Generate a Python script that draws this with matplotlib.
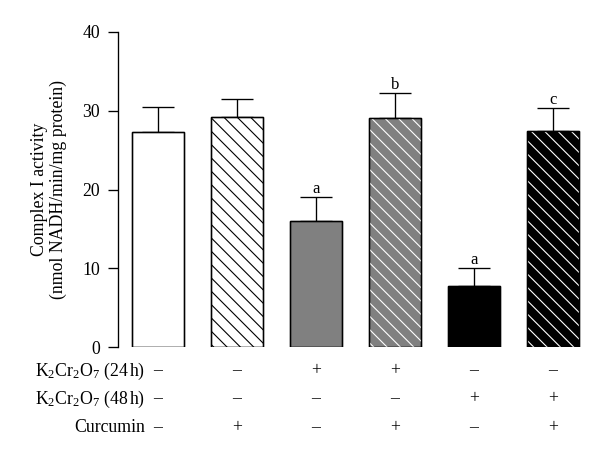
import matplotlib

matplotlib.use("Agg")
import matplotlib.pyplot as plt
from matplotlib.transforms import blended_transform_factory

# values
activity = [27.3, 29.2, 16.0, 29.1, 7.8, 27.4]
sem = [3.2, 2.3, 3.05, 3.1, 2.2, 3.0]
face_colors = ["white", "white", "#808080", "#808080", "black", "black"]
hatched = [False, True, False, True, False, True]
hatch_colors = ["black", "black", "white", "white", "white", "white"]
letters = ["", "", "a", "b", "a", "c"]

row_labels = [r"K$_2$Cr$_2$O$_7$ (24$\,$h)", r"K$_2$Cr$_2$O$_7$ (48$\,$h)", "Curcumin"]
k24 = ["–", "–", "+", "+", "–", "–"]
k48 = ["–", "–", "–", "–", "+", "+"]
curcumin = ["–", "+", "–", "+", "–", "+"]

plt.rcParams["font.family"] = "Liberation Serif"
plt.rcParams["mathtext.fontset"] = "custom"
plt.rcParams["mathtext.rm"] = "Liberation Serif"
plt.rcParams["mathtext.it"] = "Liberation Serif:italic"
plt.rcParams["hatch.linewidth"] = 1.0

W, H, DPI = 600, 461, 80
fig = plt.figure(figsize=(W / DPI, H / DPI), dpi=DPI)
ax = fig.add_axes([118 / W, 1 - 347 / H, 474.5 / W, 315 / H])

positions = list(range(len(activity)))
width = 0.66

ax.bar(positions, activity, width, color=face_colors, edgecolor="black", linewidth=1.2, zorder=2)
for pos, value, flag, hcolor in zip(positions, activity, hatched, hatch_colors):
    if flag:
        ax.bar(pos, value, width, color="none", edgecolor=hcolor, hatch="\\\\", linewidth=0, zorder=3)
ax.bar(positions, activity, width, color="none", edgecolor="black", linewidth=1.2, zorder=4)

ax.errorbar(
    positions,
    activity,
    yerr=[[0] * len(sem), sem],
    fmt="none",
    ecolor="black",
    elinewidth=1.2,
    capsize=14,
    capthick=1.2,
    zorder=1,
)
for pos, value, err, letter in zip(positions, activity, sem, letters):
    if letter:
        ax.annotate(letter, (pos, value + err), xytext=(0, 0), textcoords="offset points",
                    ha="center", va="bottom", fontsize=15)

ax.set_xlim(-0.506, 5.5)
ax.set_ylim(0, 40)
ax.set_yticks([0, 10, 20, 30, 40])
ax.set_xticks([])
for side in ("top", "right", "bottom"):
    ax.spines[side].set_visible(False)
ax.spines["left"].set_linewidth(1.2)
ax.tick_params(axis="y", direction="out", length=9, width=1.2, labelsize=16, pad=7)
ax.set_ylabel("Complex I activity\n(nmol NADH/min/mg protein)", fontsize=16, labelpad=14, linespacing=1.1)

# treatment table under the bars, one column per bar
trans = blended_transform_factory(ax.transData, fig.transFigure)
row_y = [371, 399, 428]
for label, signs, y in zip(row_labels, [k24, k48, curcumin], row_y):
    fig.text(145 / W, 1 - y / H, label, ha="right", va="center", fontsize=16)
    for pos, sign in zip(positions, signs):
        ax.text(pos, 1 - y / H, sign, transform=trans, ha="center", va="center", fontsize=16)

fig.savefig("out.png", dpi=DPI)
